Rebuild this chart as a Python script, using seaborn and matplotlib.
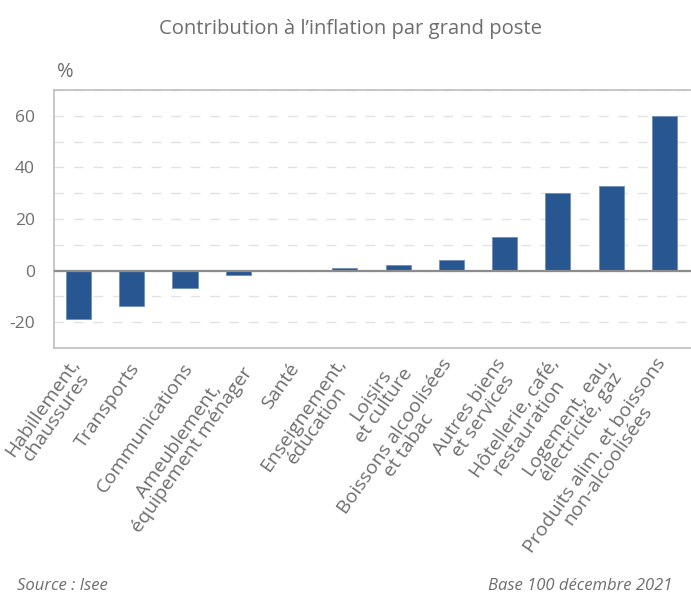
import matplotlib
matplotlib.use('Agg')
import matplotlib.pyplot as plt
import matplotlib.transforms as mtrans
import seaborn as sns
import pandas as pd

categories = ['Habillement,\nchaussures', 'Transports', 'Communications',
              'Ameublement,\néquipement ménager', 'Santé', 'Enseignement,\néducation',
              'Loisirs\net culture', 'Boissons alcoolisées\net tabac', 'Autres biens\net services',
              'Hôtellerie, café,\nrestauration', 'Logement, eau,\nélectricité, gaz',
              'Produits alim. et boissons\nnon-alcoolisées']
values = [-18.8, -13.8, -6.8, -1.8, 0.0, 1.1, 2.0, 4.2, 13.0, 30.0, 32.9, 60.0]
y_ticks = [-20, 0, 20, 40, 60]

sns.set_theme(style='white')
plt.rcParams['font.family'] = ['Open Sans', 'DejaVu Sans']
grey = '#6e6e6e'
bar_color = '#285690'

df = pd.DataFrame({'poste': categories, 'val': values})

fig = plt.figure(figsize=(6.91, 6.01), dpi=100)
ax = fig.add_axes([0.0786, 0.421, 0.9214, 0.429])

sns.barplot(data=df, x='poste', y='val', color=bar_color, width=0.47, ax=ax,
            saturation=1, edgecolor='#6f8fb8', linewidth=0.6)

ax.set_ylim(-30, 70)
ax.set_xlim(-0.454, 11.5)
for g in range(-20, 71, 10):
    ax.axhline(g, color='#e2e2e2', lw=1, ls=(0, (7, 7)), zorder=0)
ax.axhline(0, color='#8c8c8c', lw=1.6, zorder=3)
ax.set_yticks(y_ticks)
ax.set_yticklabels([str(t) for t in y_ticks])
ax.tick_params(axis='y', colors=grey, labelsize=12.5, length=0, pad=14)
ax.tick_params(axis='x', colors=grey, labelsize=14, length=0, pad=2)
offset = mtrans.ScaledTranslation(4 / 100, -14 / 100, fig.dpi_scale_trans)
for lab in ax.get_xticklabels():
    lab.set_rotation(55)
    lab.set_ha('right')
    lab.set_va('center')
    lab.set_rotation_mode('anchor')
    lab.set_multialignment('center')
    lab.set_linespacing(0.9)
    lab.set_transform(lab.get_transform() + offset)
ax.set_xlabel('')
ax.set_ylabel('')
for side in ['top', 'bottom', 'left']:
    ax.spines[side].set_color('#bdbdbd')
    ax.spines[side].set_linewidth(1.2)
ax.spines['right'].set_visible(False)

fig.text(0.507, 0.951, 'Contribution à l\u2019inflation par grand poste', ha='center',
         va='center', color=grey, fontsize=14.6)
fig.text(0.082, 0.88, '%', ha='left', va='center', color=grey, fontsize=14.5)
fig.text(0.024, 0.012, 'Source : Isee', ha='left', va='bottom', color=grey,
         fontsize=12, style='italic')
fig.text(0.973, 0.012, 'Base 100 décembre 2021', ha='right', va='bottom', color=grey,
         fontsize=12, style='italic')

fig.savefig('out.png', dpi=100, facecolor='white')
